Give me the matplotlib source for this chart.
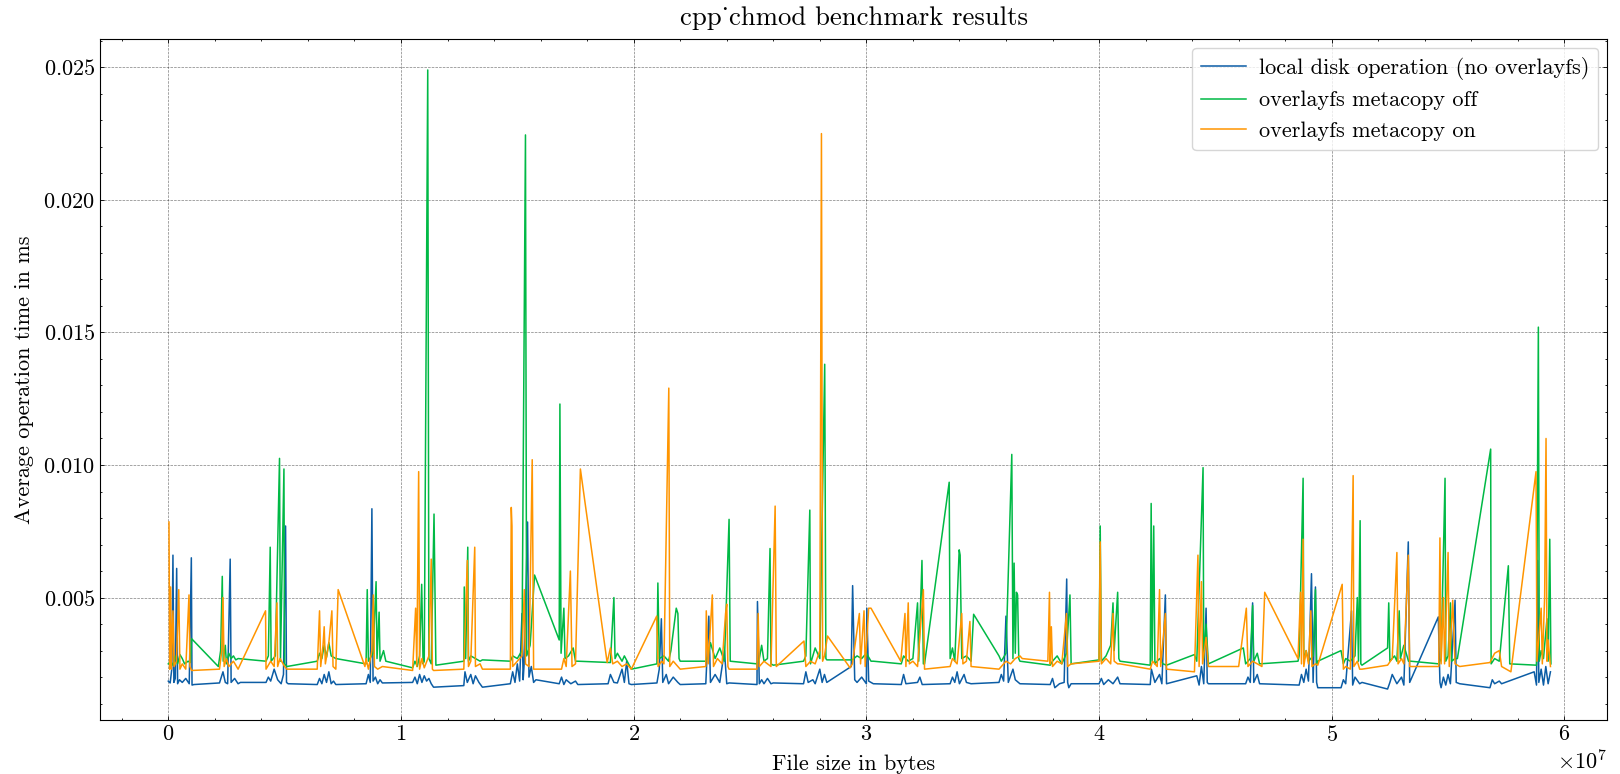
import matplotlib
matplotlib.use("Agg")
import matplotlib.pyplot as plt
import numpy as np

# (file size [1e7 bytes], avg time [1e-3 ms])
local_disk = [
    (0.000, 1.85), (0.008, 1.78), (0.015, 2.3), (0.020, 6.6), (0.024, 1.8), (0.030, 1.95), (0.036, 6.1),
    (0.040, 1.75), (0.048, 1.9), (0.060, 1.8), (0.075, 1.95), (0.090, 1.75), (0.099, 6.5), (0.102, 1.7),
    (0.110, 1.72),
    (0.220, 1.78), (0.235, 2.2), (0.245, 1.8), (0.255, 1.75), (0.266, 6.45), (0.270, 1.8), (0.285, 1.95),
    (0.300, 1.75), (0.310, 1.8),
    (0.420, 1.8), (0.430, 2.0), (0.440, 1.85), (0.455, 2.3), (0.470, 1.9), (0.485, 1.75), (0.495, 2.1),
    (0.504, 7.7), (0.508, 1.8), (0.515, 1.75),
    (0.640, 1.72), (0.650, 1.95), (0.660, 1.75), (0.670, 2.1), (0.680, 1.8), (0.690, 2.2), (0.700, 1.75),
    (0.710, 1.85), (0.720, 1.72),
    (0.850, 1.75), (0.860, 2.1), (0.868, 1.8), (0.875, 8.35), (0.880, 1.85), (0.890, 2.0), (0.900, 1.75),
    (0.910, 1.9), (0.920, 1.78),
    (1.050, 1.8), (1.060, 2.0), (1.070, 1.75), (1.080, 2.1), (1.090, 1.8), (1.100, 2.05), (1.110, 1.85),
    (1.120, 1.95), (1.130, 1.75), (1.140, 1.62),
    (1.270, 1.68), (1.275, 2.2), (1.285, 1.8), (1.300, 2.1), (1.310, 1.75), (1.320, 2.05), (1.335, 1.8),
    (1.350, 1.62),
    (1.470, 1.75), (1.480, 2.2), (1.490, 1.8), (1.500, 2.5), (1.510, 1.85), (1.520, 4.4), (1.525, 1.9),
    (1.530, 2.6), (1.544, 7.85), (1.550, 2.0), (1.560, 2.4), (1.570, 1.8), (1.580, 1.9),
    (1.680, 1.75), (1.690, 2.0), (1.700, 1.72), (1.710, 1.9), (1.730, 1.75), (1.750, 1.85), (1.760, 1.72),
    (1.890, 1.75), (1.900, 2.1), (1.915, 1.8), (1.930, 1.78), (1.950, 2.3), (1.960, 1.8), (1.970, 2.6),
    (1.980, 1.75), (1.990, 1.72),
    (2.100, 1.78), (2.110, 2.3), (2.119, 4.2), (2.125, 1.8), (2.140, 2.1), (2.150, 1.75), (2.170, 2.0),
    (2.190, 1.8), (2.200, 1.72),
    (2.310, 1.75), (2.323, 4.3), (2.330, 1.8), (2.350, 2.1), (2.370, 1.8), (2.390, 3.0), (2.400, 1.75),
    (2.410, 1.78),
    (2.530, 1.72), (2.532, 4.85), (2.540, 1.75), (2.550, 1.9), (2.560, 1.75), (2.575, 1.95), (2.590, 1.75),
    (2.600, 1.78),
    (2.730, 1.75), (2.740, 2.2), (2.750, 1.8), (2.770, 1.9), (2.780, 1.75), (2.800, 2.3), (2.810, 1.8),
    (2.820, 2.1), (2.830, 1.8),
    (2.935, 2.4), (2.941, 5.45), (2.950, 1.9), (2.960, 1.8), (2.980, 2.0), (3.000, 1.75), (3.002, 4.6),
    (3.010, 1.85), (3.030, 1.75),
    (3.150, 1.72), (3.160, 2.1), (3.170, 1.75), (3.200, 1.78), (3.220, 1.8), (3.230, 2.0), (3.240, 1.72),
    (3.360, 1.75), (3.370, 2.0), (3.380, 1.8), (3.390, 2.2), (3.400, 1.75), (3.420, 2.1), (3.430, 1.8),
    (3.450, 1.75),
    (3.570, 1.8), (3.580, 2.1), (3.590, 1.85), (3.600, 4.3), (3.610, 1.8), (3.630, 2.3), (3.640, 1.9),
    (3.660, 1.75),
    (3.790, 1.72), (3.800, 1.95), (3.810, 1.6), (3.830, 1.75), (3.850, 1.8), (3.861, 5.7), (3.865, 1.8),
    (3.870, 1.6), (3.880, 1.75),
    (4.000, 1.75), (4.010, 1.95), (4.020, 1.72), (4.040, 1.9), (4.060, 1.75), (4.080, 2.0), (4.090, 1.75),
    (4.220, 1.72), (4.225, 2.3), (4.240, 1.8), (4.260, 2.1), (4.270, 1.75), (4.285, 5.1), (4.290, 1.75),
    (4.420, 2.05), (4.430, 1.7), (4.440, 2.4), (4.450, 1.75), (4.460, 4.6), (4.465, 1.8), (4.470, 1.75),
    (4.630, 1.75), (4.640, 2.0), (4.650, 1.8), (4.660, 4.8), (4.665, 1.8), (4.680, 2.1), (4.690, 1.75),
    (4.860, 1.7), (4.870, 2.1), (4.880, 1.8), (4.890, 2.3), (4.900, 1.85), (4.913, 5.9), (4.920, 1.8),
    (4.930, 5.4), (4.935, 1.8), (4.940, 1.6),
    (5.040, 1.6), (5.050, 1.9), (5.060, 1.75), (5.085, 4.5), (5.090, 1.7), (5.100, 2.0), (5.120, 1.75),
    (5.130, 1.8),
    (5.240, 1.55), (5.250, 1.8), (5.260, 2.1), (5.280, 1.75), (5.300, 2.0), (5.310, 1.7), (5.329, 7.1),
    (5.335, 1.8), (5.340, 1.9),
    (5.458, 4.27), (5.465, 1.8), (5.470, 1.6), (5.480, 2.0), (5.490, 1.7), (5.500, 2.1), (5.510, 1.75),
    (5.530, 4.9), (5.535, 1.8), (5.550, 1.75),
    (5.680, 1.6), (5.690, 1.9), (5.700, 1.75), (5.720, 1.85), (5.730, 1.75),
    (5.870, 2.2), (5.880, 1.7), (5.885, 6.4), (5.890, 1.8), (5.900, 2.3), (5.910, 1.7), (5.920, 2.4),
    (5.930, 1.75), (5.940, 2.2),
]

metacopy_off = [
    (0.000, 2.5), (0.010, 2.6), (0.020, 2.45), (0.030, 2.8), (0.040, 2.5), (0.050, 2.85), (0.060, 2.7),
    (0.070, 2.5), (0.085, 2.6), (0.095, 2.55), (0.100, 3.45),
    (0.215, 2.4), (0.225, 3.0), (0.232, 5.8), (0.236, 2.6), (0.245, 3.2), (0.250, 2.5), (0.260, 2.9),
    (0.270, 2.7), (0.280, 2.8), (0.290, 2.65), (0.300, 2.7),
    (0.420, 2.6), (0.430, 2.8), (0.438, 6.9), (0.442, 2.6), (0.460, 2.8), (0.478, 10.25), (0.482, 2.6),
    (0.497, 9.85), (0.500, 2.5), (0.510, 2.4),
    (0.640, 2.6), (0.650, 2.9), (0.660, 2.7), (0.670, 3.2), (0.680, 2.75), (0.690, 3.3), (0.700, 2.8),
    (0.720, 2.7),
    (0.850, 2.5), (0.855, 5.3), (0.860, 2.6), (0.880, 2.9), (0.893, 5.6), (0.897, 2.7), (0.906, 4.45),
    (0.910, 2.6), (0.925, 3.0), (0.935, 2.6),
    (1.050, 2.35), (1.060, 2.6), (1.070, 2.4), (1.080, 2.8), (1.089, 5.5), (1.095, 2.5), (1.100, 2.6),
    (1.115, 24.9), (1.120, 2.7), (1.130, 2.5), (1.142, 8.15), (1.150, 2.45),
    (1.270, 2.6), (1.272, 5.4), (1.278, 2.7), (1.287, 6.9), (1.290, 2.6), (1.300, 2.8), (1.320, 2.7),
    (1.340, 2.6), (1.350, 2.65),
    (1.470, 2.6), (1.480, 2.8), (1.500, 2.7), (1.520, 3.0), (1.535, 22.45), (1.540, 2.8), (1.555, 3.2),
    (1.574, 5.85),
    (1.680, 3.4), (1.683, 12.3), (1.688, 2.9), (1.700, 4.6), (1.705, 2.7), (1.720, 2.8), (1.740, 3.1),
    (1.750, 2.6), (1.760, 2.6),
    (1.900, 2.55), (1.915, 5.0), (1.920, 2.7), (1.930, 2.9), (1.950, 2.6), (1.960, 2.8), (1.975, 2.55),
    (1.990, 2.3),
    (2.100, 2.5), (2.104, 5.55), (2.110, 2.7), (2.130, 2.8), (2.150, 2.6), (2.160, 3.0), (2.183, 4.6),
    (2.190, 4.4), (2.195, 2.7), (2.200, 2.6),
    (2.310, 2.6), (2.320, 2.8), (2.330, 3.3), (2.350, 2.7), (2.370, 3.1), (2.390, 2.6), (2.410, 7.95),
    (2.415, 2.6),
    (2.530, 2.5), (2.540, 2.7), (2.550, 3.2), (2.560, 2.6), (2.575, 2.7), (2.586, 6.85), (2.590, 2.5),
    (2.600, 2.45),
    (2.730, 2.6), (2.740, 2.8), (2.757, 8.3), (2.760, 2.5), (2.780, 3.1), (2.800, 2.7), (2.821, 13.8),
    (2.826, 2.7), (2.830, 2.65),
    (2.940, 2.65), (2.960, 2.8), (2.980, 2.7), (3.000, 2.9), (3.020, 2.6), (3.030, 2.6),
    (3.150, 2.5), (3.160, 2.8), (3.180, 2.6), (3.200, 2.7), (3.220, 4.8), (3.225, 2.6), (3.239, 6.4),
    (3.245, 2.5), (3.250, 2.5),
    (3.356, 9.35), (3.360, 2.7), (3.370, 3.1), (3.380, 2.6), (3.399, 6.8), (3.403, 6.6), (3.410, 2.7),
    (3.430, 2.8), (3.450, 2.6), (3.461, 4.37),
    (3.570, 2.8), (3.580, 2.6), (3.600, 2.9), (3.625, 10.4), (3.630, 2.7), (3.635, 6.3), (3.640, 2.9),
    (3.645, 5.2), (3.650, 5.1), (3.655, 2.7), (3.660, 2.6),
    (3.790, 2.45), (3.800, 2.6), (3.820, 2.8), (3.840, 2.5), (3.860, 2.9), (3.875, 5.1), (3.880, 2.5),
    (4.000, 2.65), (4.005, 7.7), (4.010, 2.6), (4.030, 2.8), (4.050, 3.2), (4.060, 4.8), (4.065, 3.0),
    (4.080, 5.2), (4.085, 2.7), (4.090, 2.6),
    (4.220, 2.45), (4.224, 8.55), (4.228, 2.6), (4.235, 7.7), (4.240, 2.5), (4.260, 2.7), (4.275, 2.5),
    (4.290, 2.45),
    (4.410, 2.85), (4.420, 2.6), (4.447, 9.9), (4.450, 2.7), (4.460, 4.0), (4.470, 2.5),
    (4.620, 3.1), (4.630, 2.5), (4.650, 2.7), (4.660, 4.7), (4.665, 2.6), (4.680, 2.9), (4.690, 2.5),
    (4.855, 2.6), (4.860, 2.8), (4.877, 9.5), (4.880, 2.6), (4.890, 3.0), (4.900, 2.6), (4.920, 2.8),
    (4.930, 5.3), (4.935, 2.5), (4.940, 2.6),
    (5.040, 3.0), (5.050, 2.5), (5.060, 2.7), (5.080, 2.6), (5.100, 2.8), (5.110, 5.0), (5.115, 2.6),
    (5.122, 7.9), (5.125, 2.5), (5.130, 2.45),
    (5.240, 3.1), (5.245, 4.8), (5.250, 2.6), (5.270, 2.8), (5.280, 2.6), (5.290, 4.5), (5.295, 2.7),
    (5.310, 3.2), (5.330, 2.6), (5.340, 2.6),
    (5.460, 2.5), (5.470, 2.7), (5.487, 9.5), (5.490, 2.6), (5.500, 2.8), (5.510, 4.8), (5.515, 2.6),
    (5.530, 2.7), (5.540, 2.7),
    (5.683, 10.6), (5.685, 2.5), (5.700, 2.7), (5.720, 2.6), (5.759, 6.2), (5.765, 2.5),
    (5.880, 2.45), (5.888, 15.2), (5.892, 2.6), (5.900, 3.0), (5.910, 2.7), (5.925, 4.2), (5.930, 2.6),
    (5.937, 7.2), (5.942, 2.5),
]

metacopy_on = [
    (0.003, 7.85), (0.006, 2.3), (0.010, 5.4), (0.013, 2.3), (0.020, 4.5), (0.025, 2.4), (0.035, 2.6),
    (0.045, 5.3), (0.050, 2.3), (0.060, 2.5), (0.075, 2.3), (0.089, 5.1), (0.093, 2.4), (0.100, 2.25),
    (0.220, 2.3), (0.230, 3.0), (0.235, 5.0), (0.240, 2.4), (0.250, 2.7), (0.260, 2.4), (0.280, 2.6),
    (0.300, 2.3),
    (0.418, 4.5), (0.420, 2.3), (0.440, 2.6), (0.455, 2.4), (0.467, 4.8), (0.470, 2.4), (0.480, 2.7),
    (0.500, 2.4), (0.510, 2.3),
    (0.640, 2.3), (0.650, 4.5), (0.655, 2.4), (0.665, 3.2), (0.670, 3.9), (0.675, 2.5), (0.690, 3.3),
    (0.703, 4.5), (0.708, 2.4), (0.720, 2.3), (0.730, 5.3),
    (0.845, 2.4), (0.850, 2.7), (0.860, 2.3), (0.875, 3.0), (0.881, 5.1), (0.886, 2.4), (0.900, 2.3),
    (0.920, 2.4),
    (1.050, 2.25), (1.063, 4.6), (1.068, 2.4), (1.076, 9.75), (1.080, 2.3), (1.090, 2.7), (1.100, 2.35),
    (1.120, 2.8), (1.130, 6.45), (1.135, 2.3), (1.140, 2.25),
    (1.270, 2.3), (1.285, 6.4), (1.290, 2.4), (1.300, 2.6), (1.317, 6.9), (1.320, 2.4), (1.340, 2.5),
    (1.350, 2.3),
    (1.470, 2.3), (1.474, 8.4), (1.477, 7.7), (1.480, 2.4), (1.500, 2.6), (1.520, 2.8), (1.530, 5.3),
    (1.535, 2.5), (1.550, 2.4), (1.564, 10.2), (1.570, 2.3), (1.580, 2.3),
    (1.690, 2.3), (1.700, 2.7), (1.710, 2.4), (1.728, 6.0), (1.735, 2.4), (1.750, 2.5), (1.771, 9.85),
    (1.886, 2.55), (1.900, 3.1), (1.910, 2.5), (1.930, 2.6), (1.950, 2.4), (1.970, 2.5), (1.990, 2.3),
    (2.099, 4.3), (2.105, 2.4), (2.120, 2.6), (2.130, 2.5), (2.151, 12.9), (2.155, 2.4), (2.170, 2.6),
    (2.190, 2.4), (2.200, 2.3),
    (2.310, 2.4), (2.312, 4.5), (2.320, 2.5), (2.338, 5.1), (2.343, 2.4), (2.360, 2.7), (2.380, 2.5),
    (2.395, 4.4), (2.400, 4.75), (2.405, 2.4), (2.410, 2.3),
    (2.530, 2.3), (2.535, 4.4), (2.540, 2.4), (2.560, 2.6), (2.575, 2.5), (2.590, 2.4), (2.608, 8.45),
    (2.613, 2.4),
    (2.732, 3.36), (2.740, 2.4), (2.760, 2.6), (2.780, 2.5), (2.800, 3.0), (2.807, 22.5), (2.812, 2.6),
    (2.820, 2.8), (2.833, 3.55),
    (2.930, 2.35), (2.940, 2.5), (2.970, 4.4), (2.975, 2.5), (2.990, 4.5), (2.995, 2.4), (3.010, 4.6),
    (3.020, 4.6),
    (3.148, 2.6), (3.166, 4.4), (3.170, 2.4), (3.180, 4.8), (3.185, 2.5), (3.200, 2.6), (3.220, 2.4),
    (3.245, 5.3), (3.250, 2.3),
    (3.360, 2.4), (3.370, 2.7), (3.390, 2.5), (3.410, 4.4), (3.415, 2.5), (3.430, 2.6), (3.445, 4.1),
    (3.450, 2.4),
    (3.570, 2.3), (3.600, 2.6), (3.620, 2.5), (3.640, 2.7), (3.660, 2.8), (3.670, 2.7),
    (3.780, 2.6), (3.787, 5.2), (3.790, 2.5), (3.795, 3.9), (3.800, 2.4), (3.820, 2.6), (3.840, 2.5),
    (3.860, 4.4), (3.865, 2.4), (3.880, 2.5),
    (4.000, 2.6), (4.005, 7.1), (4.010, 2.5), (4.030, 2.7), (4.050, 2.5), (4.060, 4.4), (4.065, 2.6),
    (4.080, 2.5), (4.090, 2.5),
    (4.220, 2.3), (4.230, 2.6), (4.250, 2.4), (4.260, 5.3), (4.265, 2.4), (4.285, 4.4), (4.290, 2.3),
    (4.410, 2.2), (4.425, 6.6), (4.430, 2.4), (4.440, 5.6), (4.445, 2.5), (4.460, 3.5), (4.470, 2.4),
    (4.600, 2.4), (4.633, 4.6), (4.640, 2.4), (4.660, 2.6), (4.680, 2.5), (4.700, 2.4), (4.712, 5.2),
    (4.855, 2.7), (4.866, 5.2), (4.870, 2.5), (4.877, 7.2), (4.880, 2.4), (4.890, 3.0), (4.900, 2.5),
    (4.910, 4.5), (4.915, 2.4), (4.930, 2.5), (4.940, 2.45),
    (5.045, 5.5), (5.050, 2.3), (5.060, 2.4), (5.080, 2.3), (5.092, 9.6), (5.095, 2.4), (5.110, 2.6),
    (5.120, 2.3), (5.130, 2.3),
    (5.240, 2.45), (5.260, 2.7), (5.280, 6.7), (5.285, 2.5), (5.300, 2.7), (5.310, 2.5), (5.329, 6.6),
    (5.335, 2.4), (5.340, 2.4),
    (5.460, 2.4), (5.465, 7.25), (5.470, 2.5), (5.480, 5.0), (5.485, 2.5), (5.500, 6.7), (5.505, 2.4),
    (5.520, 4.9), (5.530, 2.5), (5.550, 2.4),
    (5.680, 2.55), (5.700, 2.9), (5.720, 3.0), (5.730, 2.4), (5.770, 2.2),
    (5.878, 9.75), (5.882, 2.6), (5.890, 3.5), (5.900, 4.6), (5.905, 2.5), (5.915, 5.0), (5.921, 11.0),
    (5.925, 2.6), (5.930, 3.4), (5.940, 2.4),
]

labels = ["local disk operation (no overlayfs)", "overlayfs metacopy off", "overlayfs metacopy on"]
colors = ["#0C5DA5", "#00B945", "#FF9500"]

plt.rcParams.update({
    "font.family": ["cmr10", "DejaVu Serif"],
    "mathtext.fontset": "cm",
    "axes.formatter.use_mathtext": True,
    "font.size": 16,
    "axes.linewidth": 0.8,
    "xtick.direction": "in",
    "ytick.direction": "in",
    "xtick.top": True,
    "ytick.right": True,
    "xtick.minor.visible": True,
    "ytick.minor.visible": True,
    "xtick.major.size": 3,
    "ytick.major.size": 3,
    "xtick.minor.size": 1.5,
    "ytick.minor.size": 1.5,
    "xtick.major.width": 0.6,
    "ytick.major.width": 0.6,
    "xtick.minor.width": 0.6,
    "ytick.minor.width": 0.6,
    "lines.linewidth": 1.1,
})

fig = plt.figure(figsize=(16.2, 7.74), dpi=100)
ax = fig.add_axes([100 / 1620, 54 / 774, 1507 / 1620, 681 / 774])

for series, label, color in zip([local_disk, metacopy_off, metacopy_on], labels, colors):
    x, y = np.array(series).T
    ax.plot(x * 1e7, y * 1e-3, label=label, color=color)

ax.set_xlim(-0.2935e7, 6.183e7)
# cmr10 is OT1-encoded: "_" comes out as the dot accent, like in the LaTeX original
ax.set_title("cpp_chmod benchmark results", pad=10)
ax.set_xlabel("File size in bytes", labelpad=7)
ax.set_ylabel("Average operation time in ms", labelpad=7)
ax.grid(True, linestyle="--", color="k", alpha=0.5, linewidth=0.5)
ax.legend(loc="upper right", handletextpad=0.6, borderaxespad=0.4)

fig.savefig("out.png", dpi=100)
